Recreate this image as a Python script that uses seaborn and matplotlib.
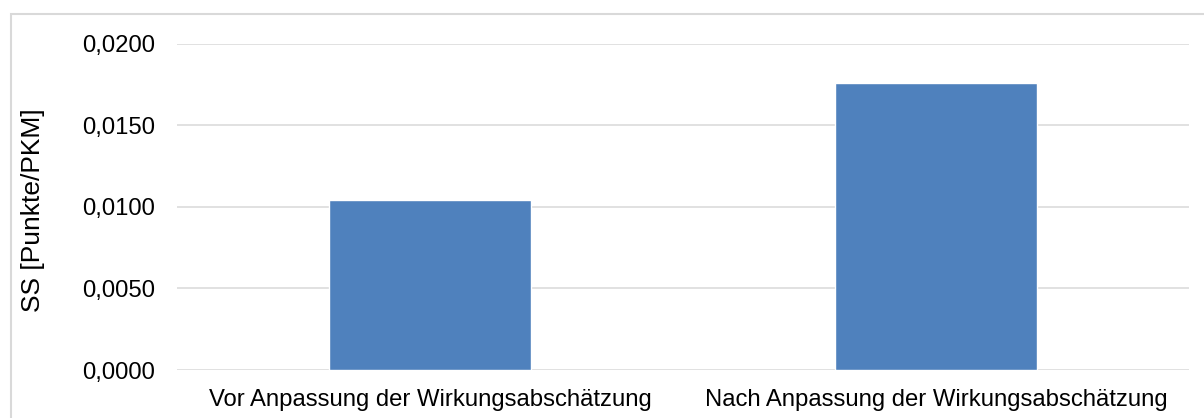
import matplotlib
matplotlib.use("Agg")
import matplotlib.pyplot as plt
import seaborn as sns
import pandas as pd
from matplotlib.patches import Rectangle

categories = ["Vor Anpassung der Wirkungsabschätzung", "Nach Anpassung der Wirkungsabschätzung"]
values = [0.01041, 0.01758]
y_ticks = [0.0, 0.005, 0.010, 0.015, 0.020]
y_tick_labels = ["0,0000", "0,0050", "0,0100", "0,0150", "0,0200"]
y_label = "SS [Punkte/PKM]"

sns.set_theme(style="white")
plt.rcParams["font.family"] = ["Liberation Sans", "DejaVu Sans"]

df = pd.DataFrame({"cat": categories, "val": values})

fig = plt.figure(figsize=(12.04, 4.18), dpi=100)
ax = fig.add_axes([177/1204, 1-370/418, (1189-177)/1204, (370-43.5)/418])

sns.barplot(data=df, x="cat", y="val", order=categories, color="#4F81BD",
            width=0.4, saturation=1, ax=ax, zorder=3)

ax.set_ylim(0, 0.02)
ax.set_yticks(y_ticks)
ax.set_yticklabels(y_tick_labels)
ax.set_xlabel("")
ax.set_ylabel(y_label, fontsize=19, color="#000000")
ax.yaxis.set_label_coords(-0.1306, 0.49)
ax.grid(axis="y", color="#d9d9d9", linewidth=1.1, zorder=0)
ax.set_axisbelow(True)
for s in ax.spines.values():
    s.set_visible(False)
ax.tick_params(axis="y", length=0, pad=16, labelsize=17.2, labelcolor="#000000")
ax.tick_params(axis="x", length=0, pad=14, labelsize=17.2, labelcolor="#000000")

fig.patches.append(Rectangle((11/1204, -0.2), 1.2, 1.2 - 13.5/418, transform=fig.transFigure,
                             fill=False, edgecolor="#d9d9d9", linewidth=1.5, zorder=0))

fig.savefig("out.png", dpi=100, facecolor="white")
